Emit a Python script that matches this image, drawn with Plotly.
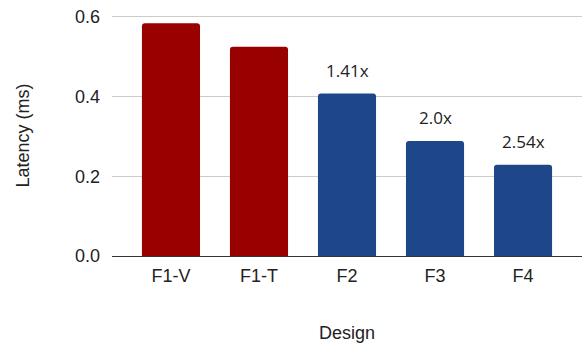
import plotly.graph_objects as go

designs = ["F1-V", "F1-T", "F2", "F3", "F4"]
latency = [0.584, 0.525, 0.408, 0.289, 0.229]
speedup_labels = ["", "", "1.41x", "2.0x", "2.54x"]
bar_colors = ["#990000", "#990000", "#1e4789", "#1e4789", "#1e4789"]

fig = go.Figure()
fig.add_trace(go.Bar(
    x=designs, y=latency,
    marker=dict(color=bar_colors, line=dict(width=0), cornerradius=3),
    width=0.66,
    hoverinfo="skip",
))

for d, v, t in zip(designs, latency, speedup_labels):
    if t:
        fig.add_annotation(x=d, y=v, text=t, showarrow=False, yshift=23,
                           font=dict(family="Open Sans", size=17, color="#222222"))

fig.update_layout(
    width=582, height=350,
    margin=dict(l=112, r=0, t=15, b=94),
    plot_bgcolor="white", paper_bgcolor="white",
    showlegend=False,
    font=dict(family="Liberation Sans", size=18, color="#222222"),
    xaxis=dict(
        range=[-0.67, 4.67],
        title=dict(text="Design", font=dict(family="Liberation Sans", size=18), standoff=41),
        tickfont=dict(family="Liberation Sans", size=18),
        showgrid=False, ticks="",
        showline=False,
        ticklabelstandoff=7,
    ),
    yaxis=dict(
        range=[0, 0.605],
        tickvals=[0, 0.2, 0.4, 0.6],
        ticktext=["0.0", "0.2", "0.4", "0.6"],
        tickfont=dict(family="Liberation Sans", size=18),
        title=dict(text="Latency (ms)", font=dict(family="Liberation Sans", size=18), standoff=40),
        showgrid=True, gridcolor="#cccccc", gridwidth=1,
        zeroline=True, zerolinecolor="#333333", zerolinewidth=1,
        ticks="", ticklen=0,
        ticklabelstandoff=11,
    ),
)

fig.write_html("out.html")
